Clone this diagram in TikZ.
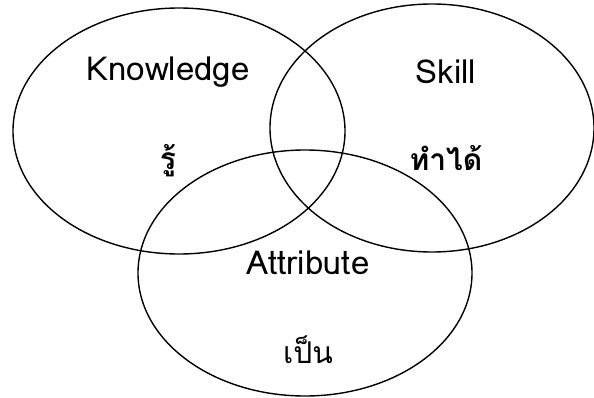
\documentclass[tikz,border=0pt]{standalone}
\usepackage{fontspec}
\setmainfont{Loma}[Script=Thai]
\usetikzlibrary{shapes.geometric,positioning}

\tikzstyle{myset} = [ellipse, draw, line width=1.4pt, inner sep=0pt]
\tikzstyle{mylabel} = [font=\fontsize{33}{36}\selectfont, inner sep=0pt]
\tikzstyle{mythai} = [font=\fontsize{30}{34}\selectfont\bfseries, inner sep=0pt]

\begin{document}
\begin{tikzpicture}[x=1pt,y=-1pt]
    \useasboundingbox (0,0) rectangle (594,398);
    \node[myset, minimum width=332pt, minimum height=246pt]
            (KnowledgeSet) at (179,131) {};
    \node[myset, minimum width=324pt, minimum height=248pt]
            (SkillSet) at (432,128) {};
    \node[myset, minimum width=334pt, minimum height=246pt]
            (AttributeSet) at (305,273) {};

    \node[mylabel] (KnowledgeText) at (168,72) {Knowledge};
    \node[mythai, below of=KnowledgeText, node distance=89pt]
            (KnowledgeThai) {รู้};
    \node[mylabel] (SkillText) at (446,72) {Skill};
    \node[mythai, below of=SkillText, node distance=86pt]
            (SkillThai) {ทำได้};
    \node[mylabel] (AttributeText) at (308,263) {Attribute};
    \node[mythai, font=\fontsize{30}{34}\selectfont,
          below of=AttributeText, node distance=87pt]
            (AttributeThai) {เป็น};
\end{tikzpicture}
\end{document}
